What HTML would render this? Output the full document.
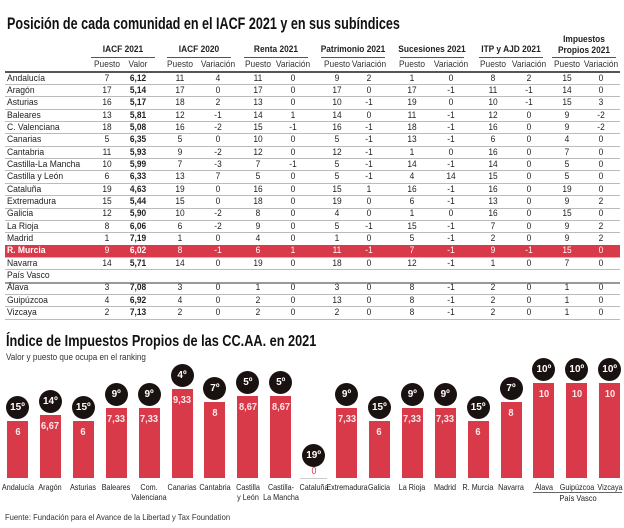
<!DOCTYPE html>
<html><head><meta charset="utf-8">
<style>
*{margin:0;padding:0;box-sizing:border-box}
body{width:624px;height:528px;background:#fff;position:relative;overflow:hidden;font-family:"Liberation Sans",sans-serif;color:#222}
.a{position:absolute;white-space:nowrap}
.c{transform:translateX(-50%) scaleX(0.88);text-align:center}
.t{font-size:9.5px}
.b{font-weight:bold}
.ln{position:absolute;height:1px;background:#bbb}
.bar{position:absolute;background:#d93a49}
.circ{position:absolute;width:23px;height:23px;border-radius:50%;background:#1a1210;color:#fff;font-weight:bold;font-size:10px;line-height:23px;text-align:center}
</style></head><body>
<div class="a b" style="left:7px;top:14px;font-size:17px;transform-origin:0 0;transform:scaleX(0.74);color:#111">Posición de cada comunidad en el IACF 2021 y en sus subíndices</div>
<div id="tbl"></div>
<div class="a b" style="left:6px;top:333px;font-size:16px;transform-origin:0 0;transform:scaleX(0.795);color:#111">Índice de Impuestos Propios de las CC.AA. en 2021</div>
<div class="a" style="left:6px;top:352px;font-size:9px;transform-origin:0 0;transform:scaleX(0.9);color:#333">Valor y puesto que ocupa en el ranking</div>
<div id="ch"></div>
<div class="a" style="left:5px;top:512px;font-size:8.5px;transform-origin:0 0;transform:scaleX(0.9);color:#333">Fuente: Fundación para el Avance de la Libertad y Tax Foundation</div>
<script>
var T=document.getElementById('tbl'),h='';
var groups=[["IACF 2021",107,138,"Puesto","Valor"],["IACF 2020",180,218,"Puesto","Variación"],["Renta 2021",258,293,"Puesto","Variación"],["Patrimonio 2021",337,369,"Puesto","Variación"],["Sucesiones 2021",412,451,"Puesto","Variación"],["ITP y AJD 2021",493,529,"Puesto","Variación"],["Impuestos<br>Propios 2021",567,601,"Puesto","Variación"]];
groups.forEach(function(g,i){var m=(g[1]+g[2])/2;
 if(i<6)h+='<div class="a c b" style="left:'+m+'px;top:44px;font-size:9.5px">'+g[0]+'</div>';
 else h+='<div class="a c b" style="left:'+m+'px;top:34px;font-size:9.5px;line-height:11px">'+g[0]+'</div>';
 h+='<div class="ln" style="left:'+(m-32)+'px;width:64px;top:57px;background:#555"></div>';
 h+='<div class="a c t" style="left:'+g[1]+'px;top:59px;color:#333">'+g[3]+'</div><div class="a c t" style="left:'+g[2]+'px;top:59px;color:#333">'+g[4]+'</div>';
});
h+='<div class="ln" style="left:5px;width:615px;top:71px;height:2px;background:#555"></div>';
var rows=[["Andalucía",7,"6,12",11,4,11,0,9,2,1,0,8,2,15,0],["Aragón",17,"5,14",17,0,17,0,17,0,17,-1,11,-1,14,0],["Asturias",16,"5,17",18,2,13,0,10,-1,19,0,10,-1,15,3],["Baleares",13,"5,81",12,-1,14,1,14,0,11,-1,12,0,9,-2],["C. Valenciana",18,"5,08",16,-2,15,-1,16,-1,18,-1,16,0,9,-2],["Canarias",5,"6,35",5,0,10,0,5,-1,13,-1,6,0,4,0],["Cantabria",11,"5,93",9,-2,12,0,12,-1,1,0,16,0,7,0],["Castilla-La Mancha",10,"5,99",7,-3,7,-1,5,-1,14,-1,14,0,5,0],["Castilla y León",6,"6,33",13,7,5,0,5,-1,4,14,15,0,5,0],["Cataluña",19,"4,63",19,0,16,0,15,1,16,-1,16,0,19,0],["Extremadura",15,"5,44",15,0,18,0,19,0,6,-1,13,0,9,2],["Galicia",12,"5,90",10,-2,8,0,4,0,1,0,16,0,15,0],["La Rioja",8,"6,06",6,-2,9,0,5,-1,15,-1,7,0,9,2],["Madrid",1,"7,19",1,0,4,0,1,0,5,-1,2,0,9,2],["R. Murcia",9,"6,02",8,-1,6,1,11,-1,7,-1,9,-1,15,0],["Navarra",14,"5,71",14,0,19,0,18,0,12,-1,1,0,7,0],["País Vasco"],["Álava",3,"7,08",3,0,1,0,3,0,8,-1,2,0,1,0],["Guipúzcoa",4,"6,92",4,0,2,0,13,0,8,-1,2,0,1,0],["Vizcaya",2,"7,13",2,0,2,0,2,0,8,-1,2,0,1,0]];
var xs=[107,138,180,218,258,293,337,369,412,451,493,529,567,601];
rows.forEach(function(r,i){var y=72+i*12.35;var mur=r[0]=="R. Murcia";
 if(mur)h+='<div class="a" style="left:5px;width:615px;top:'+y+'px;height:12px;background:#d93a49"></div>';
 var col=mur?'#fff':'#222';
 h+='<div class="a t'+(mur?' b':'')+'" style="left:7px;top:'+(y+0.5)+'px;transform-origin:0 0;transform:scaleX(0.9);color:'+col+'">'+r[0]+'</div>';
 for(var k=1;k<r.length;k++)h+='<div class="a c t'+(k==2?' b':'')+'" style="left:'+xs[k-1]+'px;top:'+(y+0.5)+'px;color:'+col+'">'+r[k]+'</div>';
 h+='<div class="ln" style="left:5px;width:615px;top:'+(y+12)+'px;'+(r[0]=="País Vasco"?'height:2px;background:#999':'')+'"></div>';
});
T.innerHTML=h;
var d=[["Andalucía",6,15],["Aragón",6.67,14],["Asturias",6,15],["Baleares",7.33,9],["Com.<br>Valenciana",7.33,9],["Canarias",9.33,4],["Cantabria",8,7],["Castilla<br>y León",8.67,5],["Castilla-<br>La Mancha",8.67,5],["Cataluña",0,19],["Extremadura",7.33,9],["Galicia",6,15],["La Rioja",7.33,9],["Madrid",7.33,9],["R. Murcia",6,15],["Navarra",8,7],["Álava",10,10],["Guipúzcoa",10,10],["Vizcaya",10,10]];
var c='';
d.forEach(function(e,i){var x=7+i*32.9,w=21,m=x+w/2,hh=e[1]*9.5,top=478-hh;
 var v=String(e[1]).replace('.',',');
 if(hh>0){c+='<div class="bar" style="left:'+x+'px;width:'+w+'px;top:'+top+'px;height:'+hh+'px"></div>';
  c+='<div class="a c b" style="left:'+m+'px;top:'+(top+5)+'px;font-size:10.5px;color:#fde8ea">'+v+'</div>';
  c+='<div class="circ" style="left:'+(m-11.5)+'px;top:'+(top-25)+'px">'+e[2]+'º</div>';}
 else{c+='<div class="ln" style="left:'+(x-3)+'px;width:'+(w+6)+'px;top:478px;background:#ccc"></div>';
  c+='<div class="a c" style="left:'+m+'px;top:466px;font-size:10px;color:#d93a49">0</div>';
  c+='<div class="circ" style="left:'+(m-11.5)+'px;top:444px">'+e[2]+'º</div>';}
 c+='<div class="a" style="left:'+m+'px;top:482px;font-size:8.5px;line-height:10px;color:#222;text-align:center;transform:translateX(-50%) scaleX(0.85)">'+e[0]+'</div>';
});
c+='<div class="ln" style="left:533px;width:89px;top:492px;background:#666"></div>';
c+='<div class="a c" style="left:578px;top:493px;font-size:8.5px">País Vasco</div>';
document.getElementById('ch').innerHTML=c;
</script>
</body></html>
